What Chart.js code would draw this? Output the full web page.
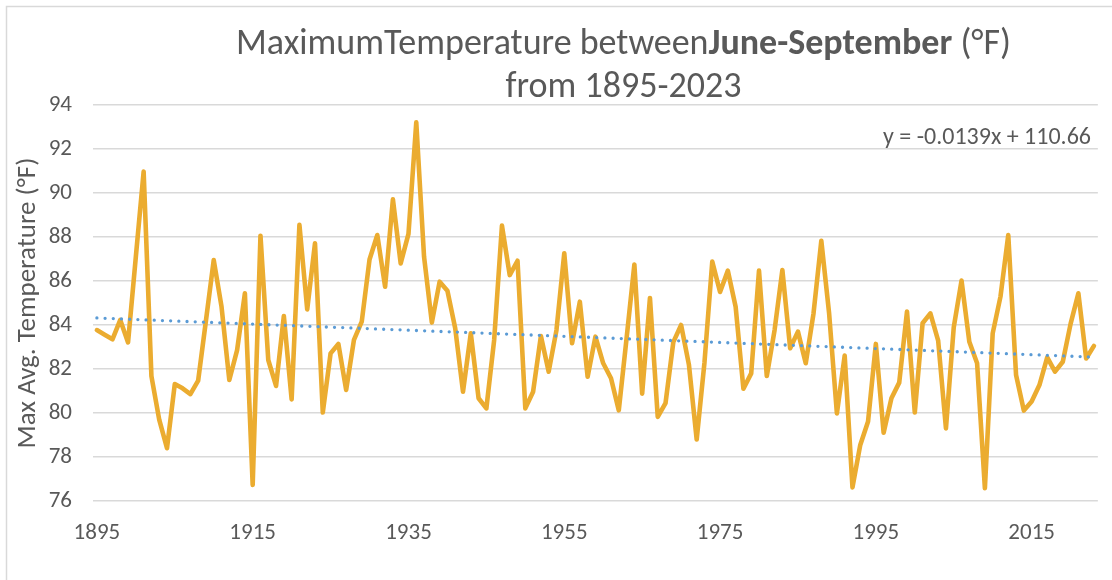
<!DOCTYPE html>
<html><head><meta charset="utf-8">
<script src="https://cdn.jsdelivr.net/npm/chart.js@4"></script>
<style>html,body{margin:0;padding:0;background:#fff;} canvas{display:block;}</style>
</head><body>
<canvas id="c" width="1112" height="580"></canvas>
<script>
// ---- data ----
const firstYear = 1895;
const maxTemps = [
  83.77, 83.56, 83.35, 84.23, 83.21, 87.10, 90.97, 81.68, 79.70, 78.40, // 1895-1904
  81.32, 81.12, 80.86, 81.47, 84.20, 86.95, 84.83, 81.50, 82.86, 85.44, // 1905-1914
  76.73, 88.06, 82.41, 81.23, 84.41, 80.62, 88.55, 84.71, 87.71, 80.02, // 1915-1924
  82.71, 83.14, 81.05, 83.32, 84.15, 86.98, 88.09, 85.74, 89.71, 86.80, // 1925-1934
  88.14, 93.21, 87.10, 84.11, 85.97, 85.56, 83.85, 80.97, 83.62, 80.67, // 1935-1944
  80.21, 83.32, 88.52, 86.27, 86.92, 80.21, 80.97, 83.50, 81.88, 83.77, // 1945-1954
  87.26, 83.17, 85.06, 81.65, 83.47, 82.26, 81.58, 80.12, 83.40, 86.75, // 1955-1964
  80.88, 85.23, 79.82, 80.45, 83.22, 84.00, 82.20, 78.80, 82.30, 86.88, // 1965-1974
  85.50, 86.47, 84.83, 81.10, 81.80, 86.47, 81.68, 83.77, 86.50, 82.94, // 1975-1984
  83.70, 82.26, 84.53, 87.83, 84.53, 79.98, 82.61, 76.62, 78.55, 79.61, // 1985-1994
  83.14, 79.10, 80.67, 81.38, 84.61, 80.02, 84.08, 84.53, 83.29, 79.30, // 1995-2004
  83.89, 86.02, 83.24, 82.26, 76.58, 83.62, 85.29, 88.09, 81.73, 80.11, // 2005-2014
  80.52, 81.27, 82.53, 81.88, 82.33, 84.05, 85.44, 82.48, 83.05          // 2015-2023
];
const years = maxTemps.map((_, i) => String(firstYear + i));
const xTickLabels = ['1895', '1915', '1935', '1955', '1975', '1995', '2015'];
const yMin = 76, yMax = 94, yStep = 2;
const trendSlope = -0.0139;
const trendIntercept = 110.66;
const trendValues = years.map(y => trendSlope * Number(y) + trendIntercept);
const equationText = 'y = ' + trendSlope.toFixed(4) + 'x + ' + trendIntercept.toFixed(2);
const titleLine1 = [
  { text: 'MaximumTemperature between', bold: false },
  { text: 'June-September', bold: true },
  { text: ' (°F)', bold: false }
];
const titleLine2 = 'from 1895-2023';
const yAxisTitle = 'Max Avg. Temperature (°F)';

// ---- style ----
const FONT = "Carlito, Lato, 'Open Sans', sans-serif";
const TEXT = '#595959';
const GRID = '#D9D9D9';

const decor = {
  id: 'decor',
  beforeDraw(chart) {
    const ctx = chart.ctx;
    ctx.save();
    ctx.fillStyle = '#fff';
    ctx.fillRect(0, 0, chart.width, chart.height);
    ctx.strokeStyle = GRID;
    ctx.lineWidth = 1.5;
    ctx.beginPath();
    ctx.moveTo(6.5, chart.height);
    ctx.lineTo(6.5, 6.5);
    ctx.lineTo(chart.width, 6.5);
    ctx.stroke();
    ctx.restore();
  },
  afterDraw(chart) {
    const ctx = chart.ctx;
    ctx.save();
    ctx.fillStyle = TEXT;
    ctx.textBaseline = 'middle';
    // title line 1 (mixed weights)
    const size = 36;
    const fontOf = b => (b ? 'bold ' : '') + size + 'px ' + FONT;
    let total = 0;
    titleLine1.forEach(p => { ctx.font = fontOf(p.bold); p.w = ctx.measureText(p.text).width; total += p.w; });
    let x = 623.5 - total / 2;
    ctx.textAlign = 'left';
    titleLine1.forEach(p => { ctx.font = fontOf(p.bold); ctx.fillText(p.text, x, 45); x += p.w; });
    ctx.font = size + 'px ' + FONT;
    ctx.textAlign = 'center';
    ctx.fillText(titleLine2, 623.5, 88);
    // trendline equation
    ctx.font = '24px ' + FONT;
    ctx.textAlign = 'right';
    ctx.fillText(equationText, 1091, 138);
    ctx.restore();
  }
};

new Chart(document.getElementById('c'), {
  type: 'line',
  data: {
    labels: years,
    datasets: [
      {
        label: 'Linear trend',
        data: trendValues,
        borderColor: '#5B9BD5',
        borderWidth: 3.3,
        borderDash: [0, 8.2],
        borderCapStyle: 'round',
        pointRadius: 0,
        fill: false,
        tension: 0
      },
      {
        label: 'Max Avg. Temperature',
        data: maxTemps,
        borderColor: '#EBAC30',
        borderWidth: 4.6,
        borderJoinStyle: 'round',
        borderCapStyle: 'round',
        pointRadius: 0,
        fill: false,
        tension: 0
      }
    ]
  },
  options: {
    responsive: false,
    animation: false,
    devicePixelRatio: 1,
    layout: { padding: { top: 105, right: 12, left: 0, bottom: 0 } },
    plugins: { legend: { display: false }, tooltip: { enabled: false }, title: { display: false } },
    scales: {
      x: {
        type: 'category',
        offset: true,
        grid: { display: false, drawTicks: false },
        border: { display: false },
        ticks: {
          autoSkip: false,
          maxRotation: 0,
          minRotation: 0,
          padding: 18,
          color: TEXT,
          font: { family: FONT, size: 23 },
          callback: function (v) {
            const l = this.getLabelForValue(v);
            return xTickLabels.includes(l) ? l : '';
          }
        },
        afterFit: s => { s.height = 79; }
      },
      y: {
        min: yMin,
        max: yMax,
        grid: { color: GRID, lineWidth: 1.5, drawTicks: false },
        border: { display: false },
        ticks: {
          stepSize: yStep,
          padding: 21,
          color: TEXT,
          font: { family: FONT, size: 23 }
        },
        title: {
          display: true,
          text: yAxisTitle,
          color: TEXT,
          font: { family: FONT, size: 27 },
          padding: { top: 12, bottom: 0 }
        },
        afterFit: s => { s.width = 93; }
      }
    }
  },
  plugins: [decor]
});
</script>
</body></html>
